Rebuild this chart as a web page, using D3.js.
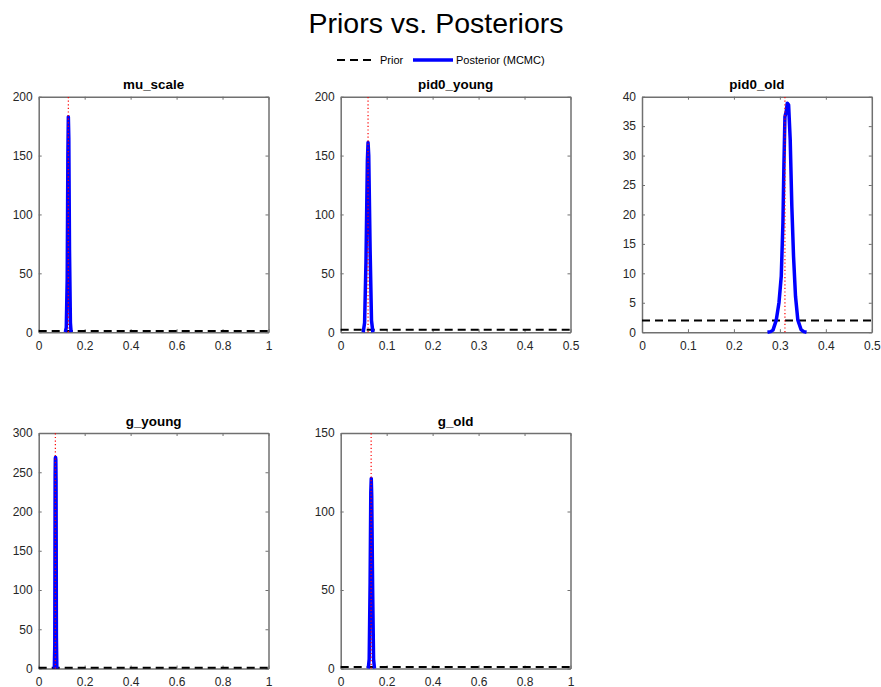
<!DOCTYPE html>
<html>
<head>
<meta charset="utf-8">
<script src="https://cdn.jsdelivr.net/npm/d3@7"></script>
<style>
  body { margin: 0; background: #fff; }
  svg { font-family: "Liberation Sans", Arial, Helvetica, sans-serif; }
  .tick text { fill: #262626; font-size: 12px; }
  .axis path, .axis line { stroke: #707070; }
</style>
</head>
<body>
<div id="chart"></div>
<script>

// panel setup
var panelTitles = ["mu_scale", "pid0_young", "pid0_old", "g_young", "g_old"];
var xMaxes = [1, 0.5, 0.5, 1, 1];
var yMaxes = [200, 200, 40, 300, 150];
var priorDensity = [1, 2, 2, 1, 1];
var trueValues = [0.129, 0.0595, 0.311, 0.0725, 0.1325];

// tick values
var xTicksUnit = [0, 0.2, 0.4, 0.6, 0.8, 1];
var xTicksHalf = [0, 0.1, 0.2, 0.3, 0.4, 0.5];
var yTicks200 = [0, 50, 100, 150, 200];
var yTicks40 = [0, 5, 10, 15, 20, 25, 30, 35, 40];
var yTicks300 = [0, 50, 100, 150, 200, 250, 300];
var yTicks150 = [0, 50, 100, 150];

// posterior densities (MCMC)
var muScaleX = [0.116, 0.120, 0.124, 0.127, 0.129, 0.131, 0.134, 0.138, 0.141];
var muScaleY = [0, 4, 45, 150, 183, 165, 70, 8, 0];

var pid0YoungX = [0.049, 0.052, 0.055, 0.058, 0.0595, 0.061, 0.064, 0.067, 0.070];
var pid0YoungY = [0, 8, 60, 145, 161, 150, 70, 10, 0];

var pid0OldX = [0.273, 0.280, 0.285, 0.292, 0.298, 0.303, 0.3066, 0.3087, 0.311, 0.3138,
                0.316, 0.319, 0.3225, 0.326, 0.3297, 0.334, 0.339, 0.346, 0.352, 0.358];
var pid0OldY = [0, 0.1, 0.35, 2.0, 5.0, 9.5, 18.5, 28.1, 36.6, 37.5,
                38.9, 38.6, 32.6, 21.4, 12.9, 6.1, 2.1, 0.45, 0.1, 0];

var gYoungX = [0.068, 0.070, 0.0715, 0.0725, 0.0735, 0.0745, 0.0755, 0.077, 0.079];
var gYoungY = [0, 30, 245, 268, 269, 266, 240, 40, 0];

var gOldX = [0.120, 0.124, 0.128, 0.131, 0.133, 0.135, 0.139, 0.143, 0.147];
var gOldY = [0, 6, 55, 112, 121, 110, 50, 6, 0];

var postX = [muScaleX, pid0YoungX, pid0OldX, gYoungX, gOldX];
var postY = [muScaleY, pid0YoungY, pid0OldY, gYoungY, gOldY];
var xTickSets = [xTicksUnit, xTicksHalf, xTicksHalf, xTicksUnit, xTicksUnit];
var yTickSets = [yTicks200, yTicks200, yTicks40, yTicks300, yTicks150];

// svg container
var svgWidth = 881;
var svgHeight = 687;

var svg = d3.select("#chart").append("svg")
    .attr("width", svgWidth)
    .attr("height", svgHeight);

// subplot grid (3 columns x 2 rows)
var colLefts = [38.7, 340.7, 642];
var rowTops = [96.7, 433];
var plotWidth = 229.8;
var plotHeight = 235.5;

// overall title
svg.append("text")
    .attr("x", 436)
    .attr("y", 33)
    .attr("text-anchor", "middle")
    .style("font-size", "28.5px")
    .style("fill", "#000")
    .text("Priors vs. Posteriors");

// legend
var legend = svg.append("g").attr("transform", "translate(0, 60)");
legend.append("line")
    .attr("x1", 337).attr("x2", 376)
    .attr("y1", 0).attr("y2", 0)
    .attr("stroke", "#000")
    .attr("stroke-width", 2)
    .attr("stroke-dasharray", "8,5");
legend.append("text")
    .attr("x", 380).attr("y", 4)
    .style("font-size", "11px")
    .text("Prior");
legend.append("line")
    .attr("x1", 413).attr("x2", 453)
    .attr("y1", 0).attr("y2", 0)
    .attr("stroke", "#0000ff")
    .attr("stroke-width", 3.5);
legend.append("text")
    .attr("x", 456).attr("y", 4)
    .style("font-size", "11px")
    .text("Posterior (MCMC)");

panelTitles.forEach(function(title, i) {
    var col = i % 3;
    var row = Math.floor(i / 3);

    var g = svg.append("g")
        .attr("transform", `translate(${colLefts[col]}, ${rowTops[row]})`);

    var xScale = d3.scaleLinear()
        .domain([0, xMaxes[i]])
        .range([0, plotWidth]);

    var yScale = d3.scaleLinear()
        .domain([0, yMaxes[i]])
        .range([plotHeight, 0]);

    var fmt = d3.format("~g");

    // box axes with inward ticks on all sides
    g.append("g")
        .attr("class", "axis")
        .attr("transform", `translate(0, ${plotHeight})`)
        .call(d3.axisBottom(xScale).tickValues(xTickSets[i]).tickFormat(fmt)
            .tickSizeInner(-3).tickSizeOuter(0).tickPadding(9));

    g.append("g")
        .attr("class", "axis")
        .call(d3.axisTop(xScale).tickValues(xTickSets[i]).tickFormat("")
            .tickSizeInner(-3).tickSizeOuter(0));

    g.append("g")
        .attr("class", "axis")
        .call(d3.axisLeft(yScale).tickValues(yTickSets[i]).tickFormat(fmt)
            .tickSizeInner(-3).tickSizeOuter(0).tickPadding(6));

    g.append("g")
        .attr("class", "axis")
        .attr("transform", `translate(${plotWidth}, 0)`)
        .call(d3.axisRight(yScale).tickValues(yTickSets[i]).tickFormat("")
            .tickSizeInner(-3).tickSizeOuter(0));

    g.selectAll(".axis path").attr("stroke-width", 1.5);

    // prior (uniform)
    g.append("line")
        .attr("x1", xScale(0))
        .attr("x2", xScale(xMaxes[i]))
        .attr("y1", yScale(priorDensity[i]))
        .attr("y2", yScale(priorDensity[i]))
        .attr("stroke", "#000")
        .attr("stroke-width", 2)
        .attr("stroke-dasharray", "8,5");

    // posterior
    var pts = postX[i].map((x, k) => [x, postY[i][k]]);
    var line = d3.line()
        .x(d => xScale(d[0]))
        .y(d => yScale(d[1]));

    g.append("path")
        .datum(pts)
        .attr("d", line)
        .attr("fill", "none")
        .attr("stroke", "#0000ff")
        .attr("stroke-width", 3.5)
        .attr("stroke-linejoin", "round");

    // true value marker
    g.append("line")
        .attr("x1", xScale(trueValues[i]))
        .attr("x2", xScale(trueValues[i]))
        .attr("y1", yScale(0))
        .attr("y2", yScale(yMaxes[i]))
        .attr("stroke", "#ff0000")
        .attr("stroke-width", 1.2)
        .attr("stroke-dasharray", "1.2,2.4");

    // subplot title
    g.append("text")
        .attr("x", plotWidth / 2)
        .attr("y", -7.5)
        .attr("text-anchor", "middle")
        .style("font-size", "13.4px")
        .style("font-weight", "bold")
        .style("fill", "#000")
        .text(title);
});

</script>
</body>
</html>
